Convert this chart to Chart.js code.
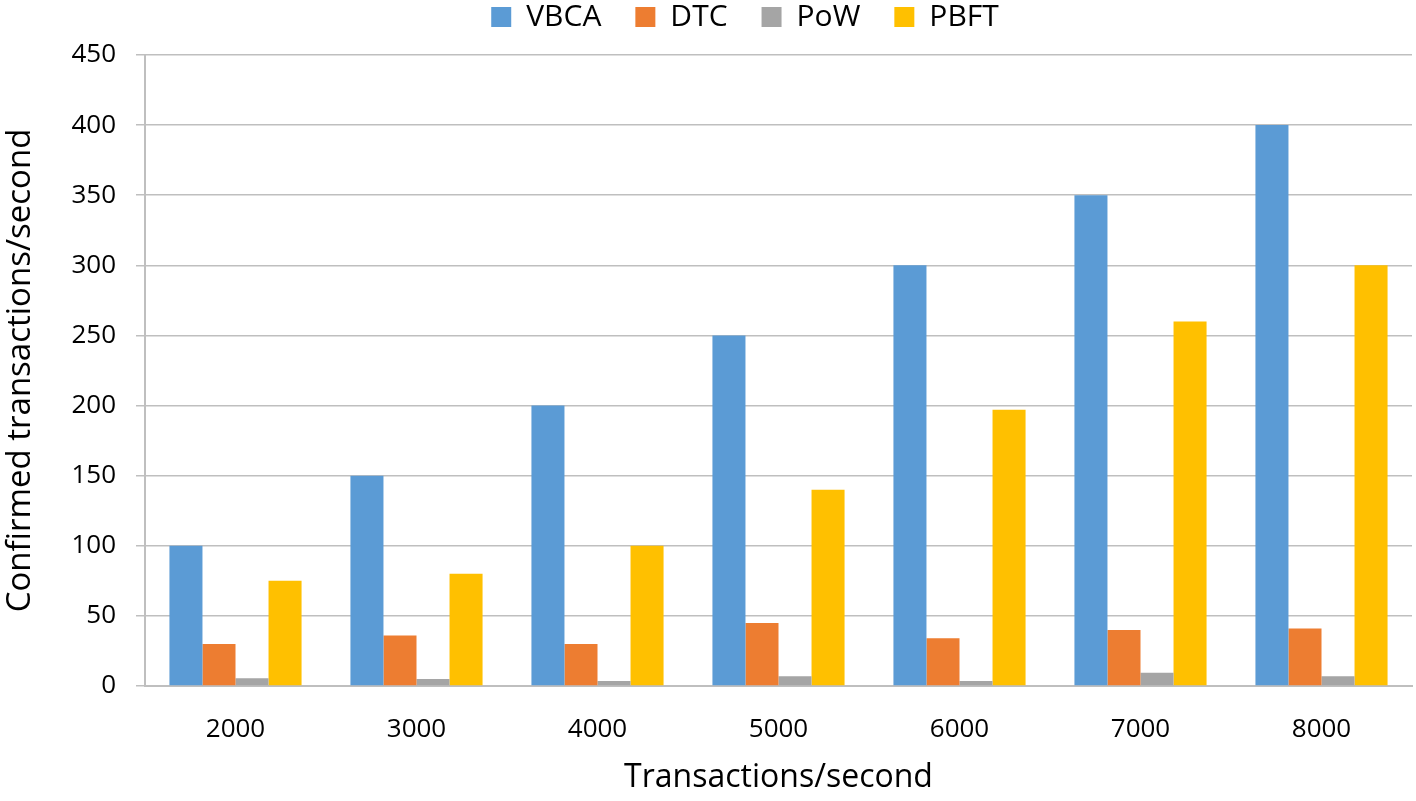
<!DOCTYPE html>
<html>
<head>
<meta charset="utf-8">
<script src="https://cdn.jsdelivr.net/npm/chart.js@4"></script>
<style>
  html, body { margin: 0; padding: 0; background: #fff; }
  #wrap { width: 1416px; height: 801px; }
</style>
</head>
<body>
<div id="wrap"><canvas id="chart"></canvas></div>
<script>
const categories = ['2000', '3000', '4000', '5000', '6000', '7000', '8000'];
const vbca = [100, 150, 200, 250, 300, 350, 400];
const dtc = [30, 36, 30, 45, 34, 40, 41];
const pow = [5.5, 5, 3.5, 7, 3.5, 9.5, 7];
const pbft = [75, 80, 100, 140, 197, 260, 300];
const yTicks = [0, 50, 100, 150, 200, 250, 300, 350, 400, 450];

const font = "'Open Sans', 'Noto Sans', sans-serif";
Chart.defaults.font.family = font;
Chart.defaults.color = '#000';

// keep the legend short so the plot starts right below it,
// and nudge it right a bit like in the original figure
const legendPlace = {
    id: 'legendPlace',
    beforeUpdate(chart) {
        const lg = chart.legend;
        if (lg && !lg._fixed) {
            const fit = lg.fit;
            lg.fit = function () {
                fit.call(this);
                this.height = 87;
            };
            lg._fixed = true;
        }
    },
    afterLayout(chart) {
        const lg = chart.legend;
        if (lg) {
            lg.left += 39;
            lg.right += 39;
        }
    }
};

const ctx = document.getElementById('chart').getContext('2d');
new Chart(ctx, {
    type: 'bar',
    data: {
        labels: categories,
        datasets: [
            { label: 'VBCA', data: vbca, backgroundColor: '#5B9BD5' },
            { label: 'DTC', data: dtc, backgroundColor: '#ED7D31' },
            { label: 'PoW', data: pow, backgroundColor: '#A5A5A5' },
            { label: 'PBFT', data: pbft, backgroundColor: '#FFC000' }
        ]
    },
    plugins: [legendPlace],
    options: {
        responsive: true,
        maintainAspectRatio: false,
        animation: false,
        layout: { padding: { top: -32, right: 4, left: 0, bottom: 0 } },
        datasets: {
            bar: { categoryPercentage: 0.73, barPercentage: 1.0 }
        },
        plugins: {
            legend: {
                position: 'top',
                labels: {
                    font: { size: 30 },
                    boxWidth: 20,
                    boxHeight: 20,
                    padding: 34
                }
            },
            tooltip: { enabled: false }
        },
        scales: {
            x: {
                grid: { display: false, drawTicks: false },
                border: { color: '#bfbfbf', width: 2 },
                ticks: { font: { size: 26 }, padding: 28 },
                title: {
                    display: true,
                    text: 'Transactions/second',
                    font: { size: 32 },
                    padding: { top: 0, bottom: 4 }
                },
                afterFit: (scale) => { scale.height = 115; }
            },
            y: {
                min: 0,
                max: 450,
                afterBuildTicks: (scale) => { scale.ticks = yTicks.map(v => ({ value: v })); },
                grid: { color: '#bfbfbf', lineWidth: 1.5, tickLength: 9 },
                border: { color: '#bfbfbf', width: 2 },
                ticks: { font: { size: 26 }, padding: 20 },
                title: {
                    display: true,
                    text: 'Confirmed transactions/second',
                    font: { size: 33 },
                    padding: { top: 1, bottom: 0 }
                },
                afterFit: (scale) => { scale.width = 145; }
            }
        }
    }
});
</script>
</body>
</html>
